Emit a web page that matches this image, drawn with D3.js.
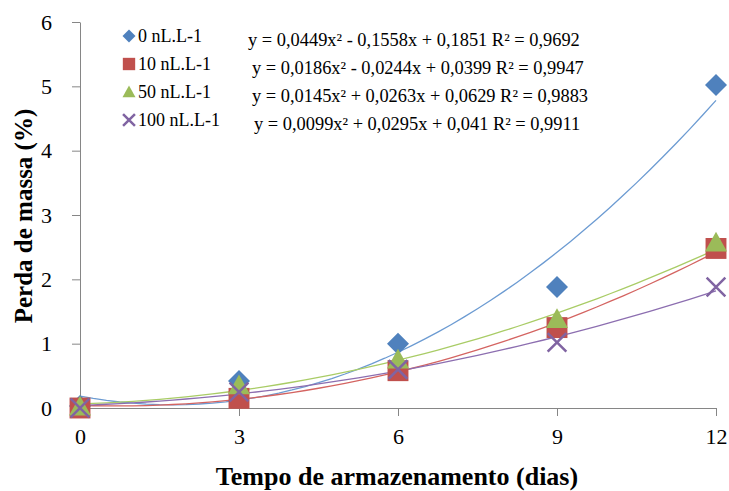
<!DOCTYPE html>
<html>
<head>
<meta charset="utf-8">
<script src="https://cdn.jsdelivr.net/npm/d3@7"></script>
<style>
  body { margin: 0; background: #fff; }
</style>
</head>
<body>
<div id="chart"></div>
<script>
// data
const days = [0, 3, 6, 9, 12];
const dose0 = [0.03, 0.42, 1.0, 1.88, 5.02];
const dose10 = [0.0, 0.15, 0.58, 1.25, 2.48];
const dose50 = [0.02, 0.35, 0.75, 1.38, 2.57];
const dose100 = [0.0, 0.25, 0.6, 1.02, 1.88];
const seriesNames = ["0 nL.L-1", "10 nL.L-1", "50 nL.L-1", "100 nL.L-1"];
const equations = [
    "y = 0,0449x² - 0,1558x + 0,1851 R² = 0,9692",
    "y = 0,0186x² - 0,0244x + 0,0399 R² = 0,9947",
    "y = 0,0145x² + 0,0263x + 0,0629 R² = 0,9883",
    "y = 0,0099x² + 0,0295x + 0,041 R² = 0,9911"
];
// trendline coefficients a, b, c (from the equations)
const coefs = [
    [0.0449, -0.1558, 0.1851],
    [0.0186, -0.0244, 0.0399],
    [0.0145, 0.0263, 0.0629],
    [0.0099, 0.0295, 0.041]
];
const yTicks = [0, 1, 2, 3, 4, 5, 6];
const xTicks = [0, 3, 6, 9, 12];

const colors = ["#4F81BD", "#C0504D", "#9BBB59", "#8064A2"];
const lineColors = ["#6C9BD2", "#D46461", "#A9CC66", "#8C6EB0"];
const allValues = [dose0, dose10, dose50, dose100];
const serif = "Liberation Serif";

const W = 729, H = 491;
const margin = {top: 22, right: 13, bottom: 83, left: 80};
const width = W - margin.left - margin.right;
const height = H - margin.top - margin.bottom;

const svg = d3.select("#chart").append("svg")
    .attr("width", W)
    .attr("height", H);

const g = svg.append("g")
    .attr("transform", "translate(" + margin.left + "," + margin.top + ")");

const x = d3.scaleLinear().domain([0, 12]).range([0, width]);
const y = d3.scaleLinear().domain([0, 6]).range([height, 0]);

// axes
const xAxis = g.append("g")
    .attr("transform", "translate(0," + height + ")")
    .call(d3.axisBottom(x).tickValues(xTicks).tickFormat(d3.format("d")).tickSize(8).tickPadding(12).tickSizeOuter(0));
const yAxis = g.append("g")
    .call(d3.axisLeft(y).tickValues(yTicks).tickFormat(d3.format("d")).tickSize(8).tickPadding(20).tickSizeOuter(0));

[xAxis, yAxis].forEach(a => {
    a.select(".domain").attr("stroke", "#868686");
    a.selectAll(".tick line").attr("stroke", "#868686");
    a.selectAll(".tick text")
        .attr("fill", "#000")
        .style("font-family", serif)
        .style("font-size", "22px");
});

// trendlines
const curveX = d3.range(0, 12.01, 0.25);
const line = d3.line().x(d => x(d[0])).y(d => y(d[1]));
coefs.forEach((c, i) => {
    const pts = curveX.map(t => [t, c[0] * t * t + c[1] * t + c[2]]);
    g.append("path")
        .datum(pts)
        .attr("fill", "none")
        .attr("stroke", lineColors[i])
        .attr("stroke-width", 1.3)
        .attr("d", line);
});

// markers
function drawMarker(sel, i, cx, cy, s) {
    if (i === 0) {
        sel.append("path")
            .attr("d", "M" + cx + "," + (cy - s) + "L" + (cx + s) + "," + cy + "L" + cx + "," + (cy + s) + "L" + (cx - s) + "," + cy + "Z")
            .attr("fill", colors[0]);
    } else if (i === 1) {
        sel.append("rect")
            .attr("x", cx - s * 0.95).attr("y", cy - s * 0.95)
            .attr("width", s * 1.9).attr("height", s * 1.9)
            .attr("fill", colors[1]);
    } else if (i === 2) {
        sel.append("path")
            .attr("d", "M" + cx + "," + (cy - s) + "L" + (cx + s) + "," + (cy + s * 0.8) + "L" + (cx - s) + "," + (cy + s * 0.8) + "Z")
            .attr("fill", colors[2]);
    } else {
        const k = s * 0.85;
        sel.append("path")
            .attr("d", "M" + (cx - k) + "," + (cy - k) + "L" + (cx + k) + "," + (cy + k) + "M" + (cx + k) + "," + (cy - k) + "L" + (cx - k) + "," + (cy + k))
            .attr("stroke", colors[3])
            .attr("stroke-width", 2.5)
            .attr("fill", "none");
    }
}

allValues.forEach((vals, i) => {
    const mg = g.append("g");
    vals.forEach((v, j) => drawMarker(mg, i, x(days[j]), y(v), 11));
});

// legend
const legY = [36, 64, 92, 120];
const eqX = [248, 252, 252, 254];
seriesNames.forEach((name, i) => {
    const lg = svg.append("g");
    drawMarker(lg, i, 129, legY[i], i === 3 ? 7 : 6.5);
    lg.append("text")
        .attr("x", 138).attr("y", legY[i])
        .attr("dy", "0.35em")
        .style("font-family", serif)
        .style("font-size", "18px")
        .text(name);
    lg.append("text")
        .attr("x", eqX[i]).attr("y", legY[i] + 4)
        .attr("dy", "0.35em")
        .style("font-family", serif)
        .style("font-size", "18.4px")
        .text(equations[i]);
});

// axis titles
svg.append("text")
    .attr("transform", "translate(32,216) rotate(-90)")
    .attr("text-anchor", "middle")
    .style("font-family", serif)
    .style("font-weight", "700")
    .style("font-size", "25px")
    .text("Perda de massa (%)");

svg.append("text")
    .attr("x", 397)
    .attr("y", 485)
    .attr("text-anchor", "middle")
    .style("font-family", serif)
    .style("font-weight", "700")
    .style("font-size", "26px")
    .text("Tempo de armazenamento (dias)");
</script>
</body>
</html>
